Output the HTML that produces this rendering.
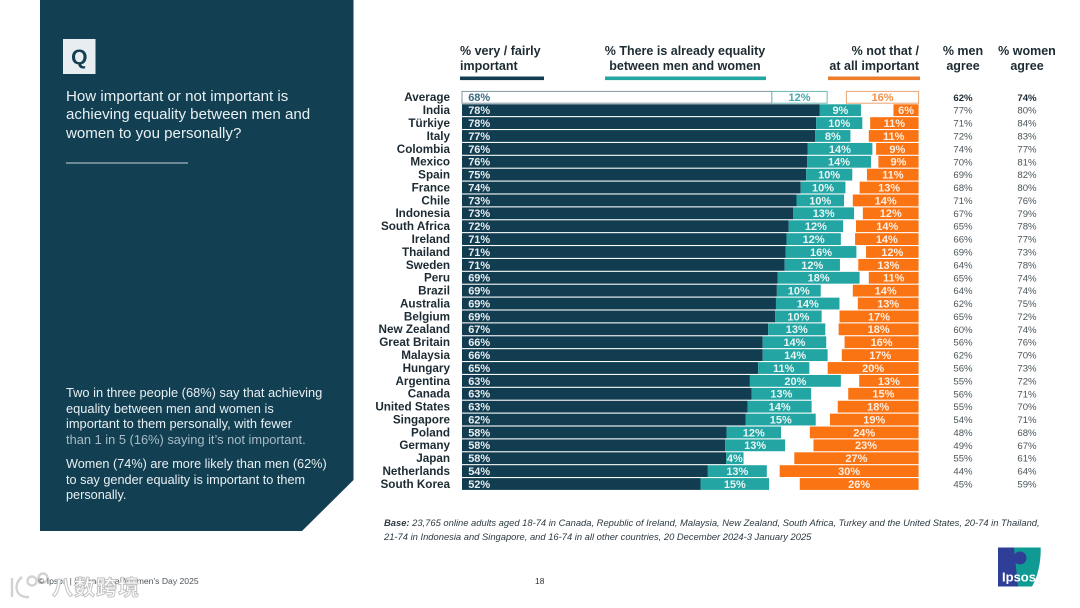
<!DOCTYPE html>
<html lang="en">
<head>
<meta charset="utf-8">
<title>Importance of achieving equality between men and women</title>
<style>
html,body{margin:0;padding:0;background:#fff}
#page{position:relative;width:1080px;height:608px;overflow:hidden;background:#fff;font-family:"Liberation Sans","Noto Sans CJK SC",sans-serif;filter:blur(0.3px)}
#page svg{position:absolute;left:0;top:0}
.t{position:absolute;white-space:nowrap}
.panel-text{color:#e9f0f3;left:66px}
.head{font-weight:700;font-size:12.5px;line-height:15.2px;color:#1d2b33}
</style>
</head>
<body>
<div id="page">
<svg width="1080" height="608" viewBox="0 0 1080 608">
  <polygon points="40,0 353.5,0 353.5,480 302,531 40,531" fill="#123f52"/>
  <rect x="63" y="39" width="32.5" height="35" fill="#e8edf1"/>
  <rect x="66" y="162.5" width="122" height="1" fill="#c9d6dc"/>
  <rect x="460" y="76.5" width="84" height="3.6" fill="#123c50"/>
  <rect x="605" y="76.5" width="161" height="3.6" fill="#22a5a3"/>
  <rect x="828" y="76.5" width="92" height="3.6" fill="#ee7d2e"/>
  <g id="chart"></g>
  <g>
    <polygon points="998,547.5 1018,547.5 1018,586.5 998,586.5" fill="#2f3e96"/>
    <path d="M1014,547.5 H1040.7 C1041,562 1038,576 1032,586.5 H1018 Z" fill="#0f9b94"/>
    <circle cx="1020" cy="558" r="6.5" fill="#2f3e96"/>
    <text x="1019" y="581.5" text-anchor="middle" font-size="13" font-weight="700" fill="#fff" font-family="Liberation Sans, sans-serif">Ipsos</text>
  </g>
  <g fill="none" stroke="#d2d2d2" stroke-width="2.4">
    <path d="M12,578 V597 M22,577 C13,584 15,598 29,597"/>
    <circle cx="32" cy="581" r="4.5"/>
    <circle cx="43" cy="578" r="4.5"/>
  </g>
</svg>

<div class="t" style="left:63px;top:45px;width:32.5px;text-align:center;font-size:21px;font-weight:700;color:#123f52;line-height:26px">Q</div>

<div class="t panel-text" style="top:88px;font-size:15.1px;line-height:18.3px;font-weight:400">How important or not important is<br>achieving equality between men and<br>women to you personally?</div>

<div class="t panel-text" style="top:385px;font-size:12.85px;line-height:15.6px">Two in three people (68%) say that achieving<br>equality between men and women is<br>important to them personally, with fewer<br><span style="color:#a8bcc6">than 1 in 5 (16%) saying it’s not important.</span></div>

<div class="t panel-text" style="top:457px;font-size:12.7px;line-height:15.6px">Women (74%) are more likely than men (62%)<br>to say gender equality is important to them<br>personally.</div>

<div class="t head" style="left:460px;top:44px">% very / fairly<br>important</div>
<div class="t head" style="left:585px;width:200px;top:44px;text-align:center">% There is already equality<br>between men and women</div>
<div class="t head" style="left:770px;width:149px;top:44px;text-align:right">% not that /<br>at all important</div>
<div class="t head" style="left:923px;width:80px;top:44px;text-align:center">% men<br>agree</div>
<div class="t head" style="left:987px;width:80px;top:44px;text-align:center">% women<br>agree</div>

<div class="t" style="left:384px;top:517px;font-size:9.38px;line-height:13.6px;font-style:italic;color:#2c3a42"><b>Base:</b> 23,765 online adults aged 18-74 in Canada, Republic of Ireland, Malaysia, New Zealand, South Africa, Turkey and the United States, 20-74 in Thailand,<br>21-74 in Indonesia and Singapore, and 16-74 in all other countries, 20 December 2024-3 January 2025</div>

<div class="t" style="left:38px;top:576px;font-size:8.6px;line-height:11px;color:#4d555a">© Ipsos | International Women’s Day 2025</div>
<div class="t" style="left:535px;top:576px;font-size:8.5px;line-height:11px;color:#333">18</div>
<div class="t" style="left:52px;top:576px;font-size:21px;line-height:25px;font-weight:700;color:#fff;letter-spacing:1px;-webkit-text-stroke:1px #c4c4c4;font-family:'Liberation Sans','Noto Sans CJK SC',sans-serif">八数跨境</div>
</div>

<script>
var categories = ["Average","India","Türkiye","Italy","Colombia","Mexico","Spain","France","Chile","Indonesia","South Africa","Ireland","Thailand","Sweden","Peru","Brazil","Australia","Belgium","New Zealand","Great Britain","Malaysia","Hungary","Argentina","Canada","United States","Singapore","Poland","Germany","Japan","Netherlands","South Korea"];
var veryFairlyImportant = [67.8,78.3,77.5,77.3,75.6,75.5,75.3,74.1,73.2,72.5,71.5,71.0,70.8,70.6,69.1,68.9,68.7,68.5,67.0,65.8,65.8,64.8,63.0,63.4,62.5,62.1,57.9,57.6,57.8,53.8,52.2];
var alreadyEquality = [12.1,9.0,10.1,7.7,14.2,14.0,10.1,9.8,10.4,13.3,11.9,11.9,15.5,12.1,17.9,9.6,13.9,10.2,12.5,13.9,14.2,11.2,19.9,13.0,14.0,15.3,11.9,13.1,3.8,12.9,15.0];
var notImportant = [15.8,5.5,10.6,10.9,9.3,8.8,11.3,12.9,14.4,12.2,13.7,13.9,11.5,13.2,10.9,14.4,13.3,17.3,17.5,16.2,16.8,19.9,13.0,15.4,17.7,19.4,23.8,23.0,27.2,30.4,26.0];
var menAgree = [62,77,71,72,74,70,69,68,71,67,65,66,69,64,65,64,62,65,60,56,62,56,55,56,55,54,48,49,55,44,45];
var womenAgree = [74,80,84,83,77,81,82,80,76,79,78,77,73,78,74,74,75,72,74,76,70,73,72,71,70,71,68,67,61,64,59];

var SVG_NS = "http://www.w3.org/2000/svg";
var chartGroup = document.getElementById("chart");
var PX_PER_PERCENT = 4.57;
var BAR_LEFT = 462;
var BAR_RIGHT = 918.6;
var ROW_TOP = 91.4;
var ROW_STEP = 12.89;
var BAR_HEIGHT = 11.8;
var FONT = "Liberation Sans, sans-serif";

function xLength(value) { return value * PX_PER_PERCENT; }
function yRow(index) { return ROW_TOP + index * ROW_STEP; }
function slug(name) { return name.toLowerCase().replace(/[^a-z]+/g, "-"); }

function drawRect(x, y, w, h, fill, stroke) {
  var r = document.createElementNS(SVG_NS, "rect");
  r.setAttribute("x", x);
  r.setAttribute("y", y);
  r.setAttribute("width", w);
  r.setAttribute("height", h);
  r.setAttribute("fill", fill);
  if (stroke) {
    r.setAttribute("stroke", stroke);
    r.setAttribute("stroke-width", "1");
  }
  chartGroup.appendChild(r);
  return r;
}

function drawText(x, y, str, anchor, size, weight, fill) {
  var t = document.createElementNS(SVG_NS, "text");
  t.setAttribute("x", x);
  t.setAttribute("y", y);
  t.setAttribute("text-anchor", anchor);
  t.setAttribute("font-size", size);
  t.setAttribute("font-weight", weight);
  t.setAttribute("font-family", FONT);
  t.setAttribute("fill", fill);
  t.textContent = str;
  chartGroup.appendChild(t);
  return t;
}

categories.forEach(function (name, i) {
  var isAverage = i === 0;
  var y = yRow(i);
  var base = y + BAR_HEIGHT / 2 + 3.9;
  var key = slug(name);
  var darkW = xLength(veryFairlyImportant[i]);
  var tealW = xLength(alreadyEquality[i]);
  var orangeW = xLength(notImportant[i]);
  var tealX = BAR_LEFT + darkW;
  var orangeX = BAR_RIGHT - orangeW;

  var label = drawText(450, base, name, "end", 11.7, 700, "#1c2a33");
  
  

  var darkBar = isAverage ? drawRect(BAR_LEFT, y, darkW, BAR_HEIGHT, "#fff", "#7f95a1") : drawRect(BAR_LEFT, y, darkW, BAR_HEIGHT, "#123c50");
  
  

  var tealBar = isAverage ? drawRect(tealX, y, tealW, BAR_HEIGHT, "#fff", "#6fb5b5") : drawRect(tealX, y, tealW, BAR_HEIGHT, "#22a5a3");
  
  

  var orangeBar = isAverage ? drawRect(orangeX, y, orangeW, BAR_HEIGHT, "#fff", "#e9a674") : drawRect(orangeX, y, orangeW, BAR_HEIGHT, "#fb7414");
  
  

  var darkValue = drawText(BAR_LEFT + 6.2, base, Math.round(veryFairlyImportant[i]) + "%", "start", 11, 700, isAverage ? "#3d6b80" : "#e6eef1");
  
  

  var tealValue = drawText(tealX + tealW / 2, base, Math.round(alreadyEquality[i]) + "%", "middle", 11, 700, isAverage ? "#45abaa" : "#e8f6f5");
  
  

  var orangeValue = drawText(orangeX + orangeW / 2, base, Math.round(notImportant[i]) + "%", "middle", 11, 700, isAverage ? "#f0914a" : "#fdeee2");
  
  

  var menValue = drawText(963, base - 0.4, menAgree[i] + "%", "middle", 9.6, isAverage ? 700 : 400, isAverage ? "#1c2a33" : "#4a555b");
  
  

  var womenValue = drawText(1027, base - 0.4, womenAgree[i] + "%", "middle", 9.6, isAverage ? 700 : 400, isAverage ? "#1c2a33" : "#4a555b");
  
  
});
</script>
</body>
</html>
